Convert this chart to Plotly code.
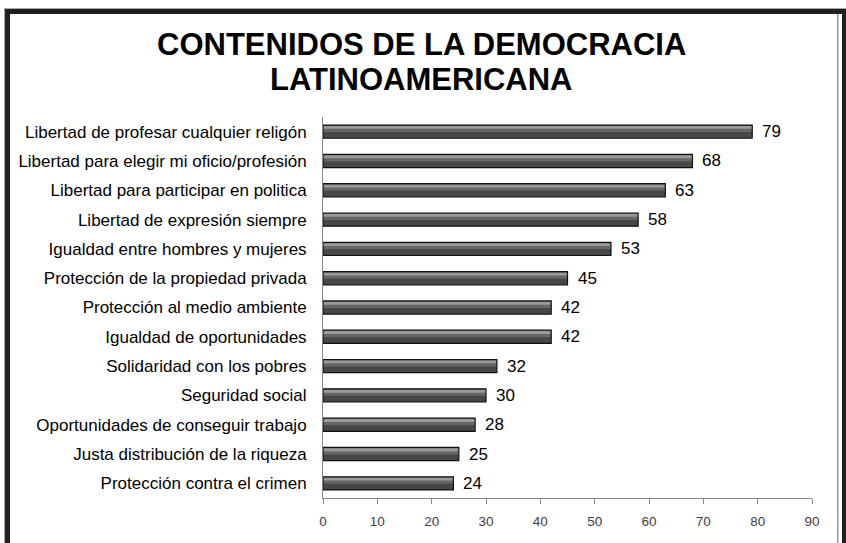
import plotly.graph_objects as go

categories = [
    "Libertad de profesar cualquier religón",
    "Libertad para elegir mi oficio/profesión",
    "Libertad para participar en politica",
    "Libertad de expresión siempre",
    "Igualdad entre hombres y mujeres",
    "Protección de la propiedad privada",
    "Protección al medio ambiente",
    "Igualdad de oportunidades",
    "Solidaridad con los pobres",
    "Seguridad social",
    "Oportunidades de conseguir trabajo",
    "Justa distribución de la riqueza",
    "Protección contra el crimen",
]
values = [79, 68, 63, 58, 53, 45, 42, 42, 32, 30, 28, 25, 24]
x_ticks = [0, 10, 20, 30, 40, 50, 60, 70, 80, 90]
title_lines = ["CONTENIDOS DE LA DEMOCRACIA", "LATINOAMERICANA"]

W, H = 846, 543
ML, MR, MT, MB = 323, 34, 117, 45
PW, PH = W - ML - MR, H - MT - MB

BAR_W = 0.45
half = BAR_W / 2


def px_x(px):
    return (px - ML) / PW


def px_y(py):
    return (H - MB - py) / PH


fig = go.Figure()
# base bar
fig.add_trace(go.Bar(x=values, y=categories, orientation="h", width=BAR_W,
                     marker=dict(color="#474747", line=dict(width=0)),
                     hoverinfo="skip", showlegend=False))
# mid band
fig.add_trace(go.Bar(x=values, y=categories, orientation="h", width=0.14,
                     offset=-half + 0.1,
                     marker=dict(color="#666666", line=dict(width=0)),
                     hoverinfo="skip", showlegend=False))
# highlight band
fig.add_trace(go.Bar(x=values, y=categories, orientation="h", width=0.1,
                     offset=-half + 0.03,
                     marker=dict(color="#9a9a9a", line=dict(width=0)),
                     hoverinfo="skip", showlegend=False))
# outline on top
fig.add_trace(go.Bar(x=values, y=categories, orientation="h", width=BAR_W,
                     marker=dict(color="rgba(0,0,0,0)", line=dict(width=1.2, color="#111111")),
                     hoverinfo="skip", showlegend=False))

annotations = [
    dict(x=v, y=c, xref="x", yref="y", text=str(v), showarrow=False,
         xanchor="left", yanchor="middle", xshift=8,
         font=dict(family="Liberation Sans, Arial", size=17, color="#000000"))
    for c, v in zip(categories, values)
]

title_centres = [45, 79]
for line, cy in zip(title_lines, title_centres):
    annotations.append(dict(
        x=px_x(421), y=px_y(cy), xref="paper", yref="paper",
        text="<b>" + line + "</b>", showarrow=False,
        xanchor="center", yanchor="middle",
        font=dict(family="Liberation Sans, Arial", size=31, color="#000000")))

dark = "#231f20"
shapes = [
    dict(type="rect", xref="paper", yref="paper", x0=px_x(4), x1=px_x(846), y0=px_y(8), y1=px_y(9),
         fillcolor="#a8a8a8", line=dict(width=0), layer="above"),
    dict(type="rect", xref="paper", yref="paper", x0=px_x(4), x1=px_x(5), y0=px_y(543), y1=px_y(8),
         fillcolor="#a8a8a8", line=dict(width=0), layer="above"),
    dict(type="rect", xref="paper", yref="paper", x0=px_x(5), x1=px_x(846), y0=px_y(14), y1=px_y(9),
         fillcolor=dark, line=dict(width=0), layer="above"),
    dict(type="rect", xref="paper", yref="paper", x0=px_x(5), x1=px_x(10), y0=px_y(543), y1=px_y(9),
         fillcolor=dark, line=dict(width=0), layer="above"),
    dict(type="rect", xref="paper", yref="paper", x0=px_x(842), x1=px_x(846), y0=px_y(543), y1=px_y(9),
         fillcolor=dark, line=dict(width=0), layer="above"),
    dict(type="rect", xref="paper", yref="paper", x0=px_x(837), x1=px_x(838.5), y0=px_y(543), y1=px_y(14),
         fillcolor="#9a9a9a", line=dict(width=0), layer="above"),
]

fig.update_layout(
    width=W, height=H,
    margin=dict(l=ML, r=MR, t=MT, b=MB, pad=0),
    paper_bgcolor="white", plot_bgcolor="white",
    barmode="overlay",
    xaxis=dict(range=[0, 90], tickvals=x_ticks, ticktext=[str(t) for t in x_ticks],
               showgrid=False, zeroline=False, showline=True, linecolor="#888888", linewidth=1,
               ticks="outside", ticklen=5, tickcolor="#888888", tickwidth=1,
               ticklabelstandoff=6,
               tickfont=dict(family="Liberation Sans, Arial", size=13.5, color="#404040"),
               fixedrange=True),
    yaxis=dict(categoryorder="array", categoryarray=categories, autorange="reversed",
               showgrid=False, zeroline=False, showline=True, linecolor="#888888", linewidth=1,
               ticks="", ticklabelstandoff=12,
               tickfont=dict(family="Liberation Sans, Arial", size=17, color="#000000"),
               fixedrange=True),
    annotations=annotations,
    shapes=shapes,
)

fig.write_html("out.html")
